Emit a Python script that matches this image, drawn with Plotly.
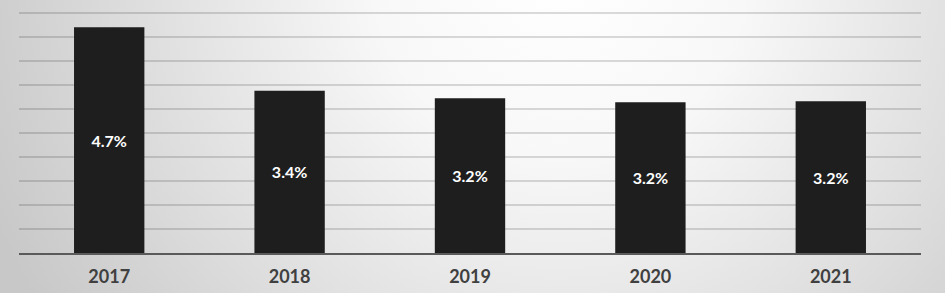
import base64
import plotly.graph_objects as go

years = ["2017", "2018", "2019", "2020", "2021"]
rates = [4.7, 3.38, 3.22, 3.14, 3.16]
labels = ["4.7%", "3.4%", "3.2%", "3.2%", "3.2%"]

W, H = 945, 293
ML, MR, MT, MB = 19, 24, 8, 40

svg = f"""<svg xmlns='http://www.w3.org/2000/svg' width='{W}' height='{H}' viewBox='0 0 {W} {H}' preserveAspectRatio='none'>
<defs><radialGradient id='g' gradientUnits='userSpaceOnUse' cx='560' cy='-30' r='620'>
<stop offset='0' stop-color='#ffffff'/><stop offset='0.3' stop-color='#f8f8f8'/><stop offset='1' stop-color='#c8c8c8'/>
</radialGradient></defs>
<rect x='0' y='0' width='{W}' height='{H}' fill='url(#g)'/></svg>"""
src = "data:image/svg+xml;base64," + base64.b64encode(svg.encode()).decode()

pw, ph = W - ML - MR, H - MT - MB

fig = go.Figure(go.Bar(
    x=years, y=rates, text=labels,
    textposition="inside", insidetextanchor="middle",
    textfont=dict(family="Lato", size=16, color="white", weight=700),
    marker=dict(color="#1e1e1e", line=dict(width=0)),
    width=0.39, hoverinfo="skip",
))

fig.update_layout(
    width=W, height=H,
    margin=dict(l=ML, r=MR, t=MT, b=MB),
    paper_bgcolor="#d0d0d0", plot_bgcolor="rgba(0,0,0,0)",
    showlegend=False,
    images=[dict(source=src, xref="paper", yref="paper",
                 x=-ML / pw, y=1 + MT / ph, sizex=W / pw, sizey=H / ph,
                 xanchor="left", yanchor="top", sizing="stretch", layer="below")],
    xaxis=dict(showline=True, linecolor="#5a5a5a", linewidth=2, showgrid=False,
               tickfont=dict(family="Lato", size=18, color="#404040", weight=700),
               ticks="", ticklabelstandoff=6, automargin=False),
    yaxis=dict(range=[0, 5.1], tickvals=[0.5 * i for i in range(1, 11)],
               showticklabels=False, ticks="",
               gridcolor="rgba(0,0,0,0.14)", gridwidth=2, zeroline=False,
               automargin=False),
    uniformtext=dict(mode=False),
)

fig.write_html("out.html", config={"displayModeBar": False},
               post_script="document.body.style.margin='0';")
